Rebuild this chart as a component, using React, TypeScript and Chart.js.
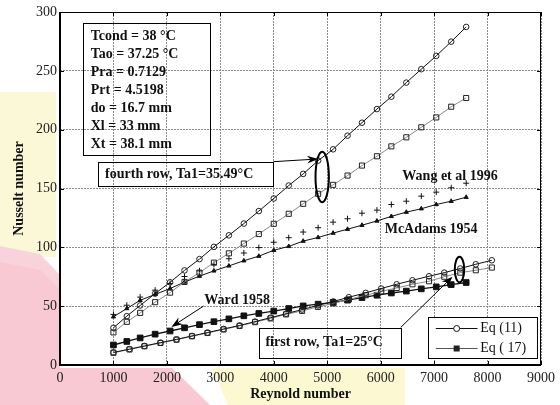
import { useEffect, useRef } from 'react';
import { Chart, registerables } from 'chart.js';

Chart.register(...registerables);

// ---- data ----
const fourthRowRe = [1000, 1250, 1500, 1780, 2060, 2330, 2610, 2880, 3160, 3440, 3720, 4000, 4280, 4550, 4830, 5110, 5380, 5650, 5930, 6200, 6480, 6760, 7040, 7320, 7600];
const fourthEq11 = [31.6, 41.5, 50.6, 60.7, 70.3, 80.4, 90, 100.4, 110.2, 120.2, 130.8, 141.5, 152.5, 162.4, 173.7, 183.3, 194.9, 205.9, 217.5, 228, 240, 251.4, 262.7, 274.8, 287.3];
const fourthEq17 = [27.7, 36.7, 44.3, 53.4, 61.5, 70.6, 78.5, 87, 94.9, 103.2, 111.3, 120, 128.5, 137, 145.5, 153.1, 161, 169.5, 177.4, 185.8, 193.5, 202, 210.4, 219.5, 226.9];
const wang1996 = [43, 50.8, 57.7, 63.6, 69.2, 75.2, 80, 85.5, 90.3, 95.2, 99.8, 104.3, 108.2, 113, 116.7, 121.4, 124.3, 129, 131.6, 136.4, 139.2, 143.5, 146.9, 150.6, 154.5];
const mcAdams1954 = [41, 48, 55, 60, 65, 70.5, 75.5, 80, 84.2, 88.6, 92.5, 97.5, 100.8, 105.3, 108.4, 112.1, 115.4, 118.8, 122.4, 126.3, 129.9, 132.8, 136.4, 139.2, 142.6];

const firstRowRe = [1000, 1300, 1580, 1880, 2180, 2470, 2760, 3060, 3360, 3650, 3940, 4230, 4530, 4825, 5115, 5405, 5720, 6010, 6300, 6595, 6905, 7190, 7490, 7780, 8080];
const firstEq11 = [10.7, 13.5, 16.2, 19, 21.8, 24.7, 27.6, 30.6, 33.6, 36.9, 40.2, 43.6, 47.1, 50.6, 54, 57.6, 61.3, 65, 68.6, 72, 75.4, 78.5, 82, 85.6, 89];
const firstEq17 = [10.4, 13.2, 15.9, 18.7, 21.5, 24.4, 27.2, 30.2, 33.2, 36.4, 39.6, 43, 46, 49.4, 52.4, 55.7, 59.3, 62.5, 65.5, 68.6, 71.2, 75, 78.5, 80.5, 82.8];
const ward1958 = [17, 20, 23, 26.2, 28.9, 31.6, 34.3, 36.8, 39.2, 41.8, 43.8, 45.8, 48, 50.2, 51.7, 53.2, 55.1, 57.3, 59.3, 61.2, 62.8, 64.7, 66.4, 68.3, 70.1];

const xTickLabels = ['0', '1000', '2000', '3000', '4000', '5000', '6000', '7000', '8000', '9000'];
const yTickLabels = ['0', '50', '100', '150', '200', '250', '300'];

const paramLines = ['Tcond = 38 \u00B0C', 'Tao = 37.25 \u00B0C', 'Pra = 0.7129', 'Prt = 4.5198', 'do = 16.7 mm', 'Xl = 33 mm', 'Xt = 38.1 mm'];
const fourthRowLabel = 'fourth row, Ta1=35.49\u00B0C';
const firstRowLabel = 'first row, Ta1=25\u00B0C';
const wangLabel = 'Wang et al 1996';
const mcAdamsLabel = 'McAdams 1954';
const wardLabel = 'Ward 1958';
const legendLabels = ['Eq (11)', 'Eq ( 17)'];
const xTitle = 'Reynold number';
const yTitle = 'Nusselt number';

const SERIF = "'Liberation Serif', 'Times New Roman', serif";

function pts(xs: number[], ys: number[]) {
  return xs.map((x, i) => ({ x, y: ys[i] }));
}

export default function App() {
  const ref = useRef<HTMLCanvasElement>(null);

  useEffect(() => {
    const canvas = ref.current;
    if (!canvas) return;

    const bgPlugin = {
      id: 'bgPlugin',
      beforeDraw(chart: any) {
        const { ctx, width, height, chartArea: a } = chart;
        ctx.save();
        ctx.fillStyle = '#ffffff';
        ctx.fillRect(0, 0, width, height);
        // faint watermark patches outside the plot
        ctx.fillStyle = '#fbf8d8';
        ctx.fillRect(0, 92, 56, 165);
        ctx.fillStyle = '#fcf9d2';
        ctx.beginPath();
        ctx.moveTo(212, 368);
        ctx.lineTo(405, 368);
        ctx.lineTo(405, 405);
        ctx.lineTo(228, 405);
        ctx.closePath();
        ctx.fill();
        ctx.fillStyle = '#f9d3dc';
        ctx.beginPath();
        ctx.moveTo(0, 246);
        ctx.lineTo(40, 254);
        ctx.lineTo(60, 275);
        ctx.lineTo(60, 300);
        ctx.lineTo(0, 300);
        ctx.closePath();
        ctx.fill();
        ctx.fillStyle = '#f8c8d3';
        ctx.beginPath();
        ctx.moveTo(0, 262);
        ctx.lineTo(40, 270);
        ctx.lineTo(60, 290);
        ctx.lineTo(60, 368);
        ctx.lineTo(172, 368);
        ctx.lineTo(210, 405);
        ctx.lineTo(0, 405);
        ctx.closePath();
        ctx.fill();
        ctx.fillStyle = '#ffffff';
        ctx.fillRect(a.left, a.top, a.right - a.left, a.bottom - a.top);
        ctx.restore();
      },
    };

    const framePlugin = {
      id: 'framePlugin',
      afterDatasetsDraw(chart: any) {
        const { ctx, chartArea: a, scales } = chart;
        const xs = scales.x;
        const ys = scales.y;
        ctx.save();
        ctx.strokeStyle = '#000';
        ctx.lineWidth = 1;
        ctx.strokeRect(a.left + 0.5, a.top + 0.5, a.right - a.left - 1, a.bottom - a.top);
        ctx.beginPath();
        xs.ticks.forEach((t: any) => {
          const px = Math.round(xs.getPixelForValue(t.value)) + 0.5;
          ctx.moveTo(px, a.bottom);
          ctx.lineTo(px, a.bottom - 4);
          ctx.moveTo(px, a.top);
          ctx.lineTo(px, a.top + 4);
        });
        ys.ticks.forEach((t: any) => {
          const py = Math.round(ys.getPixelForValue(t.value)) + 0.5;
          ctx.moveTo(a.left, py);
          ctx.lineTo(a.left + 4, py);
          ctx.moveTo(a.right, py);
          ctx.lineTo(a.right - 4, py);
        });
        ctx.stroke();
        ctx.lineWidth = 2;
        ctx.beginPath();
        ctx.moveTo(a.left, a.top);
        ctx.lineTo(a.left, a.bottom + 1);
        ctx.moveTo(a.left - 1, a.bottom);
        ctx.lineTo(a.right, a.bottom);
        ctx.stroke();
        ctx.restore();
      },
    };

    const notesPlugin = {
      id: 'notesPlugin',
      afterDatasetsDraw(chart: any) {
        const { ctx, scales } = chart;
        const X = (v: number) => scales.x.getPixelForValue(v);
        const Y = (v: number) => scales.y.getPixelForValue(v);
        const bold = `bold 14px ${SERIF}`;

        const box = (x0: number, y0: number, x1: number, y1: number, fill?: string) => {
          const l = Math.round(X(x0)) + 0.5;
          const t = Math.round(Y(y0)) + 0.5;
          const r = Math.round(X(x1)) + 0.5;
          const b = Math.round(Y(y1)) + 0.5;
          if (fill) {
            ctx.fillStyle = fill;
            ctx.fillRect(l, t, r - l, b - t);
          }
          ctx.strokeStyle = '#000';
          ctx.lineWidth = 1;
          ctx.strokeRect(l, t, r - l, b - t);
        };
        const text = (s: string, x: number, y: number, font = bold) => {
          ctx.font = font;
          ctx.fillStyle = '#111';
          ctx.textAlign = 'left';
          ctx.textBaseline = 'middle';
          ctx.fillText(s, X(x), Y(y));
        };
        const arrow = (x0: number, y0: number, x1: number, y1: number) => {
          const ax = X(x0), ay = Y(y0), bx = X(x1), by = Y(y1);
          const ang = Math.atan2(by - ay, bx - ax);
          const len = 11, hw = 4;
          const cx = bx - Math.cos(ang) * len * 0.7;
          const cy = by - Math.sin(ang) * len * 0.7;
          ctx.strokeStyle = '#000';
          ctx.lineWidth = 1;
          ctx.beginPath();
          ctx.moveTo(ax, ay);
          ctx.lineTo(cx, cy);
          ctx.stroke();
          const px = bx - Math.cos(ang) * len;
          const py = by - Math.sin(ang) * len;
          ctx.fillStyle = '#000';
          ctx.beginPath();
          ctx.moveTo(bx, by);
          ctx.lineTo(px - Math.sin(ang) * hw, py + Math.cos(ang) * hw);
          ctx.lineTo(cx, cy);
          ctx.lineTo(px + Math.sin(ang) * hw, py - Math.cos(ang) * hw);
          ctx.closePath();
          ctx.fill();
        };
        const ellipse = (x: number, y: number, rx: number, ry: number) => {
          ctx.strokeStyle = '#000';
          ctx.lineWidth = 2;
          ctx.beginPath();
          ctx.ellipse(X(x), Y(y), Math.abs(X(x + rx) - X(x)), Math.abs(Y(y) - Y(y + ry)), 0, 0, Math.PI * 2);
          ctx.stroke();
        };

        ctx.save();
        // parameter box
        box(431, 290.9, 2800, 178.5);
        paramLines.forEach((s, i) => text(s, 575, 279 - i * 15.2));

        // fourth row label + arrow + ellipse
        box(707, 172.8, 3994, 152.1);
        text(fourthRowLabel, 844, 162.3);
        arrow(3994, 172.8, 4830, 175.1);
        ellipse(4906, 159.8, 125, 21.5);

        // correlation labels
        text(wangLabel, 6406, 160);
        text(mcAdamsLabel, 6075, 115.6);
        text(wardLabel, 2700, 54.6);
        arrow(2687, 50.1, 2085, 32.4);

        // first row label + arrow + ellipse
        box(3718, 31.6, 6375, 5.7);
        text(firstRowLabel, 3844, 19);
        arrow(6375, 31.9, 7344, 75);
        ellipse(7475, 81.2, 88, 10.9);

        // legend
        box(6887, 40.5, 8925, 5.7, '#ffffff');
        const rows = [31.2, 14.2];
        rows.forEach((ry, i) => {
          const y = Math.round(Y(ry)) + 0.5;
          ctx.strokeStyle = i === 0 ? '#111' : '#555';
          ctx.lineWidth = 1;
          ctx.beginPath();
          ctx.moveTo(X(7031), y);
          ctx.lineTo(X(7813), y);
          ctx.stroke();
          const mx = X(7422);
          if (i === 0) {
            ctx.fillStyle = '#fff';
            ctx.beginPath();
            ctx.arc(mx, y, 3, 0, Math.PI * 2);
            ctx.fill();
            ctx.strokeStyle = '#111';
            ctx.stroke();
          } else {
            ctx.fillStyle = '#222';
            ctx.fillRect(mx - 3, y - 3, 6, 6);
          }
          text(legendLabels[i], 7862, ry, `14px ${SERIF}`);
        });
        ctx.restore();
      },
    };

    const tickFont = { family: SERIF, size: 14 };
    const titleFont = { family: SERIF, size: 14, weight: 'bold' as const };

    const chart = new Chart(canvas, {
      type: 'scatter',
      data: {
        datasets: [
          {
            label: 'Eq (11) fourth row',
            data: pts(fourthRowRe, fourthEq11),
            showLine: true,
            borderColor: '#111',
            borderWidth: 1,
            pointStyle: 'circle',
            pointRadius: 2.8,
            pointBorderColor: '#222',
            pointBackgroundColor: 'rgba(0,0,0,0)',
            pointBorderWidth: 1,
          },
          {
            label: 'Eq (17) fourth row',
            data: pts(fourthRowRe, fourthEq17),
            showLine: true,
            borderColor: '#8a8a8a',
            borderWidth: 1,
            pointStyle: 'rect',
            pointRadius: 3.6,
            pointBorderColor: '#222',
            pointBackgroundColor: 'rgba(0,0,0,0)',
            pointBorderWidth: 1,
          },
          {
            label: 'Wang et al 1996',
            data: pts(fourthRowRe, wang1996),
            showLine: false,
            pointStyle: 'cross',
            pointRadius: 3,
            pointBorderColor: '#111',
            pointBorderWidth: 1,
          },
          {
            label: 'McAdams 1954',
            data: pts(fourthRowRe, mcAdams1954),
            showLine: true,
            borderColor: '#111',
            borderWidth: 1,
            pointStyle: 'triangle',
            pointRadius: 2.4,
            pointBorderColor: '#111',
            pointBackgroundColor: '#111',
            pointBorderWidth: 1,
          },
          {
            label: 'Eq (11) first row',
            data: pts(firstRowRe, firstEq11),
            showLine: true,
            borderColor: '#111',
            borderWidth: 1,
            pointStyle: 'circle',
            pointRadius: 2.8,
            pointBorderColor: '#222',
            pointBackgroundColor: 'rgba(0,0,0,0)',
            pointBorderWidth: 1,
          },
          {
            label: 'Eq (17) first row',
            data: pts(firstRowRe, firstEq17),
            showLine: true,
            borderColor: '#8a8a8a',
            borderWidth: 1,
            pointStyle: 'rect',
            pointRadius: 3.6,
            pointBorderColor: '#222',
            pointBackgroundColor: 'rgba(0,0,0,0)',
            pointBorderWidth: 1,
          },
          {
            label: 'Ward 1958',
            data: pts(fourthRowRe, ward1958),
            showLine: true,
            borderColor: '#111',
            borderWidth: 1.3,
            pointStyle: 'rect',
            pointRadius: 4,
            pointBorderColor: '#111',
            pointBackgroundColor: '#111',
            pointBorderWidth: 1,
          },
        ],
      },
      options: {
        animation: false,
        responsive: false,
        events: [],
        layout: { padding: { left: 0, right: 19, top: 12, bottom: 0 } },
        plugins: {
          legend: { display: false },
          tooltip: { enabled: false },
        },
        scales: {
          x: {
            type: 'linear',
            min: 0,
            max: 9000,
            ticks: {
              stepSize: 1000,
              font: tickFont,
              color: '#222',
              padding: 5,
              maxRotation: 0,
              autoSkip: false,
              callback: (_v: any, i: number) => xTickLabels[i],
            },
            grid: { color: '#8a8a8a', lineWidth: 1, drawTicks: false },
            border: { display: false, dash: [2, 1] },
            title: { display: true, text: xTitle, font: titleFont, color: '#111', padding: { top: 0, bottom: 2 } },
            afterFit: (s: any) => {
              s.height = 40;
            },
          },
          y: {
            type: 'linear',
            min: 0,
            max: 300,
            ticks: {
              stepSize: 50,
              font: tickFont,
              color: '#222',
              padding: 3,
              callback: (_v: any, i: number) => yTickLabels[i],
            },
            grid: { color: '#8a8a8a', lineWidth: 1, drawTicks: false },
            border: { display: false, dash: [2, 1] },
            title: { display: true, text: yTitle, font: titleFont, color: '#111', padding: { top: 11, bottom: 0 } },
            afterFit: (s: any) => {
              s.width = 60;
            },
          },
        },
      },
      plugins: [bgPlugin, framePlugin, notesPlugin],
    });

    return () => chart.destroy();
  }, []);

  return (
    <div style={{ position: 'fixed', left: 0, top: 0, width: 560, height: 405 }}>
      <canvas ref={ref} width={560} height={405} style={{ display: 'block' }} />
    </div>
  );
}
